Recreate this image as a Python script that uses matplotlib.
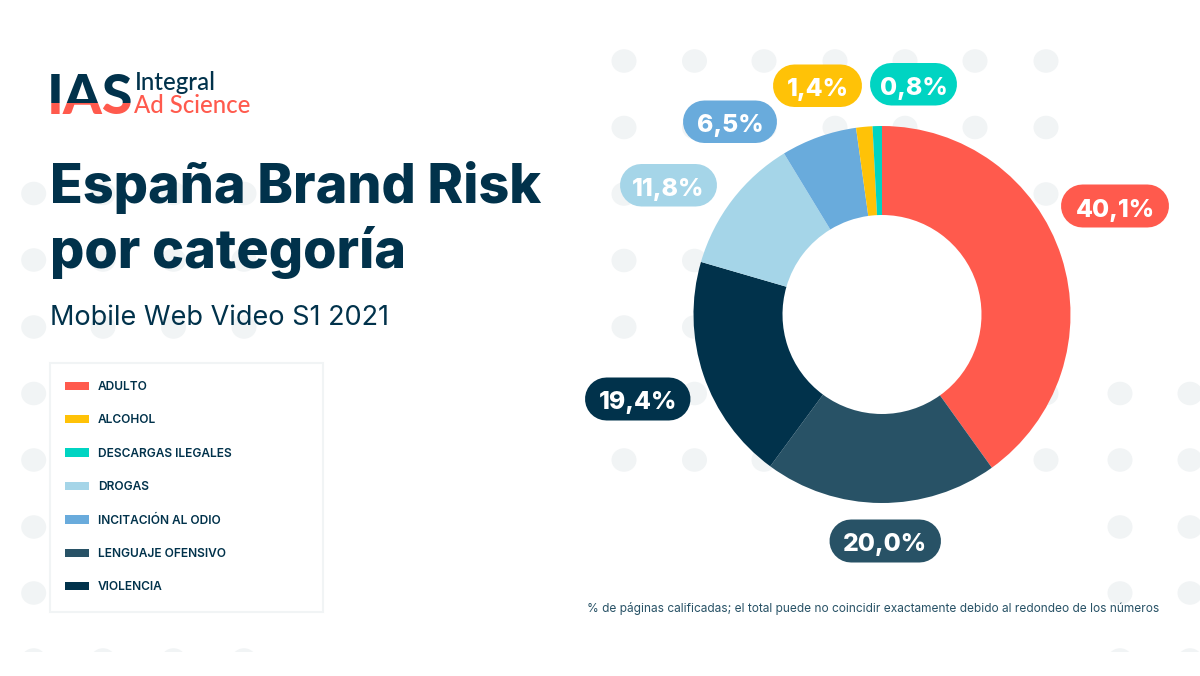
import matplotlib
matplotlib.use("Agg")
import matplotlib.pyplot as plt
from matplotlib.patches import Circle, Ellipse, Patch, Rectangle

# data
categories = ["ADULTO", "ALCOHOL", "DESCARGAS ILEGALES", "DROGAS",
              "INCITACIÓN AL ODIO", "LENGUAJE OFENSIVO", "VIOLENCIA"]
values = [40.1, 1.4, 0.8, 11.8, 6.5, 20.0, 19.4]
colors = ["#FF5A4D", "#FFC207", "#00D4C2", "#A5D5E8", "#69ABDC", "#285266", "#01324B"]
pie_order = [0, 5, 6, 3, 4, 1, 2]  # clockwise from the top

navy = "#01324B"
dot_color = "#F1F4F5"

# pill boxes, same order as categories: left, right, top, bottom (pixels)
pills = [(1061, 1169, 184.5, 227.5),
         (773, 862, 64.5, 107),
         (870, 957, 63, 105.5),
         (620, 717, 164, 206.5),
         (683, 777, 100.5, 143),
         (829.5, 941, 519.5, 562.5),
         (585, 690.5, 377.5, 420.5)]

# background dots: groups of columns and rows (pixels)
dot_groups = [([33.7, 103, 173.5, 244], [193.5, 260, 327, 393.5, 460, 527, 593, 660]),
              ([624, 694.5, 764, 835, 905, 975, 1046], [61, 127.5, 194, 260.5, 327, 393.5, 460]),
              ([1120, 1190], [393.5, 460, 527, 593, 660])]

plt.rcParams["font.family"] = ["Inter", "DejaVu Sans"]

fig = plt.figure(figsize=(12, 6.76), dpi=100, facecolor="white")

bg = fig.add_axes([0, 0, 1, 1], zorder=0)
bg.set_xlim(0, 1200)
bg.set_ylim(676, 0)
bg.axis("off")

clip = Rectangle((0, 0), 1200, 652, transform=bg.transData)
for cols, rows in dot_groups:
    for x in cols:
        for y in rows:
            e = Ellipse((x, y), 25, 23.5, color=dot_color, lw=0)
            bg.add_patch(e)
            e.set_clip_path(clip)

# donut
cx, cy, r = 882, 314.5, 188.5
bg.add_patch(Circle((cx, cy), r - 10, fc="white", ec="none"))
ax = fig.add_axes([(cx - r) / 1200, (676 - cy - r) / 676, 2 * r / 1200, 2 * r / 676], zorder=1)
ax.pie([values[i] for i in pie_order], colors=[colors[i] for i in pie_order],
       startangle=90, counterclock=False, radius=1,
       wedgeprops=dict(width=89 / 188.5, linewidth=0))
ax.set_xlim(-1, 1)
ax.set_ylim(-1, 1)

top = fig.add_axes([0, 0, 1, 1], zorder=2)
top.set_xlim(0, 1200)
top.set_ylim(676, 0)
top.axis("off")
top.patch.set_alpha(0)

# pills with the values, thick lines with round caps
for val, col, (x0, x1, y0, y1) in zip(values, colors, pills):
    h = y1 - y0
    top.plot([x0 + h / 2, x1 - h / 2], [y0 + h / 2, y0 + h / 2], color=col,
             lw=h * 0.72, solid_capstyle="round", snap=False)
    top.text((x0 + x1) / 2, y0 + h / 2 + 10.5, ("%.1f%%" % val).replace(".", ","),
             color="white", fontsize=17.8, fontweight=800, ha="center", va="baseline")

# headings
top.text(50, 203.5, "España Brand Risk", color=navy, fontsize=38.8, fontweight=800, va="baseline")
top.text(50, 268, "por categoría", color=navy, fontsize=38.8, fontweight=800, va="baseline")
top.text(50.5, 325, "Mobile Web Video S1 2021", color=navy, fontsize=19.5, va="baseline")
top.text(587, 612, "% de páginas calificadas; el total puede no coincidir exactamente debido al redondeo de los números",
         color="#285266", fontsize=8.57, va="baseline")

# logo, two colours split across the letters
for col, y0, y1 in [(navy, 60, 102.7), ("#FF5A4D", 102.7, 120)]:
    t = top.text(47, 114, "IAS", color=col, fontsize=40, fontweight=900, family="Lato", va="baseline")
    t.set_clip_on(True)
    t.set_clip_path(Rectangle((40 / 1200, 1 - y1 / 676), 100 / 1200, (y1 - y0) / 676, transform=fig.transFigure))
top.text(135, 89.5, "Integral", color=navy, fontsize=17.3, fontweight="medium", family="Lato", va="baseline")
top.text(134, 113, "Ad Science", color="#FF5A4D", fontsize=17.2, fontweight="medium", family="Lato", va="baseline")

# legend box and legend
top.add_patch(Rectangle((50, 363), 273, 249, fc="white", ec=dot_color, lw=1.5))
handles = [Patch(fc=c, ec="none", label=n) for n, c in zip(categories, colors)]
leg = top.legend(handles=handles, loc="upper left", bbox_to_anchor=(65 / 1200, 1 - 381 / 676),
                 bbox_transform=fig.transFigure, frameon=False, borderpad=0, borderaxespad=0,
                 prop=dict(family="Inter", size=8.6, weight="semibold"),
                 handlelength=2.0, handleheight=0.7, handletextpad=0.75, labelspacing=1.79)
for t in leg.get_texts():
    t.set_color(navy)

fig.savefig("out.png", dpi=100)
